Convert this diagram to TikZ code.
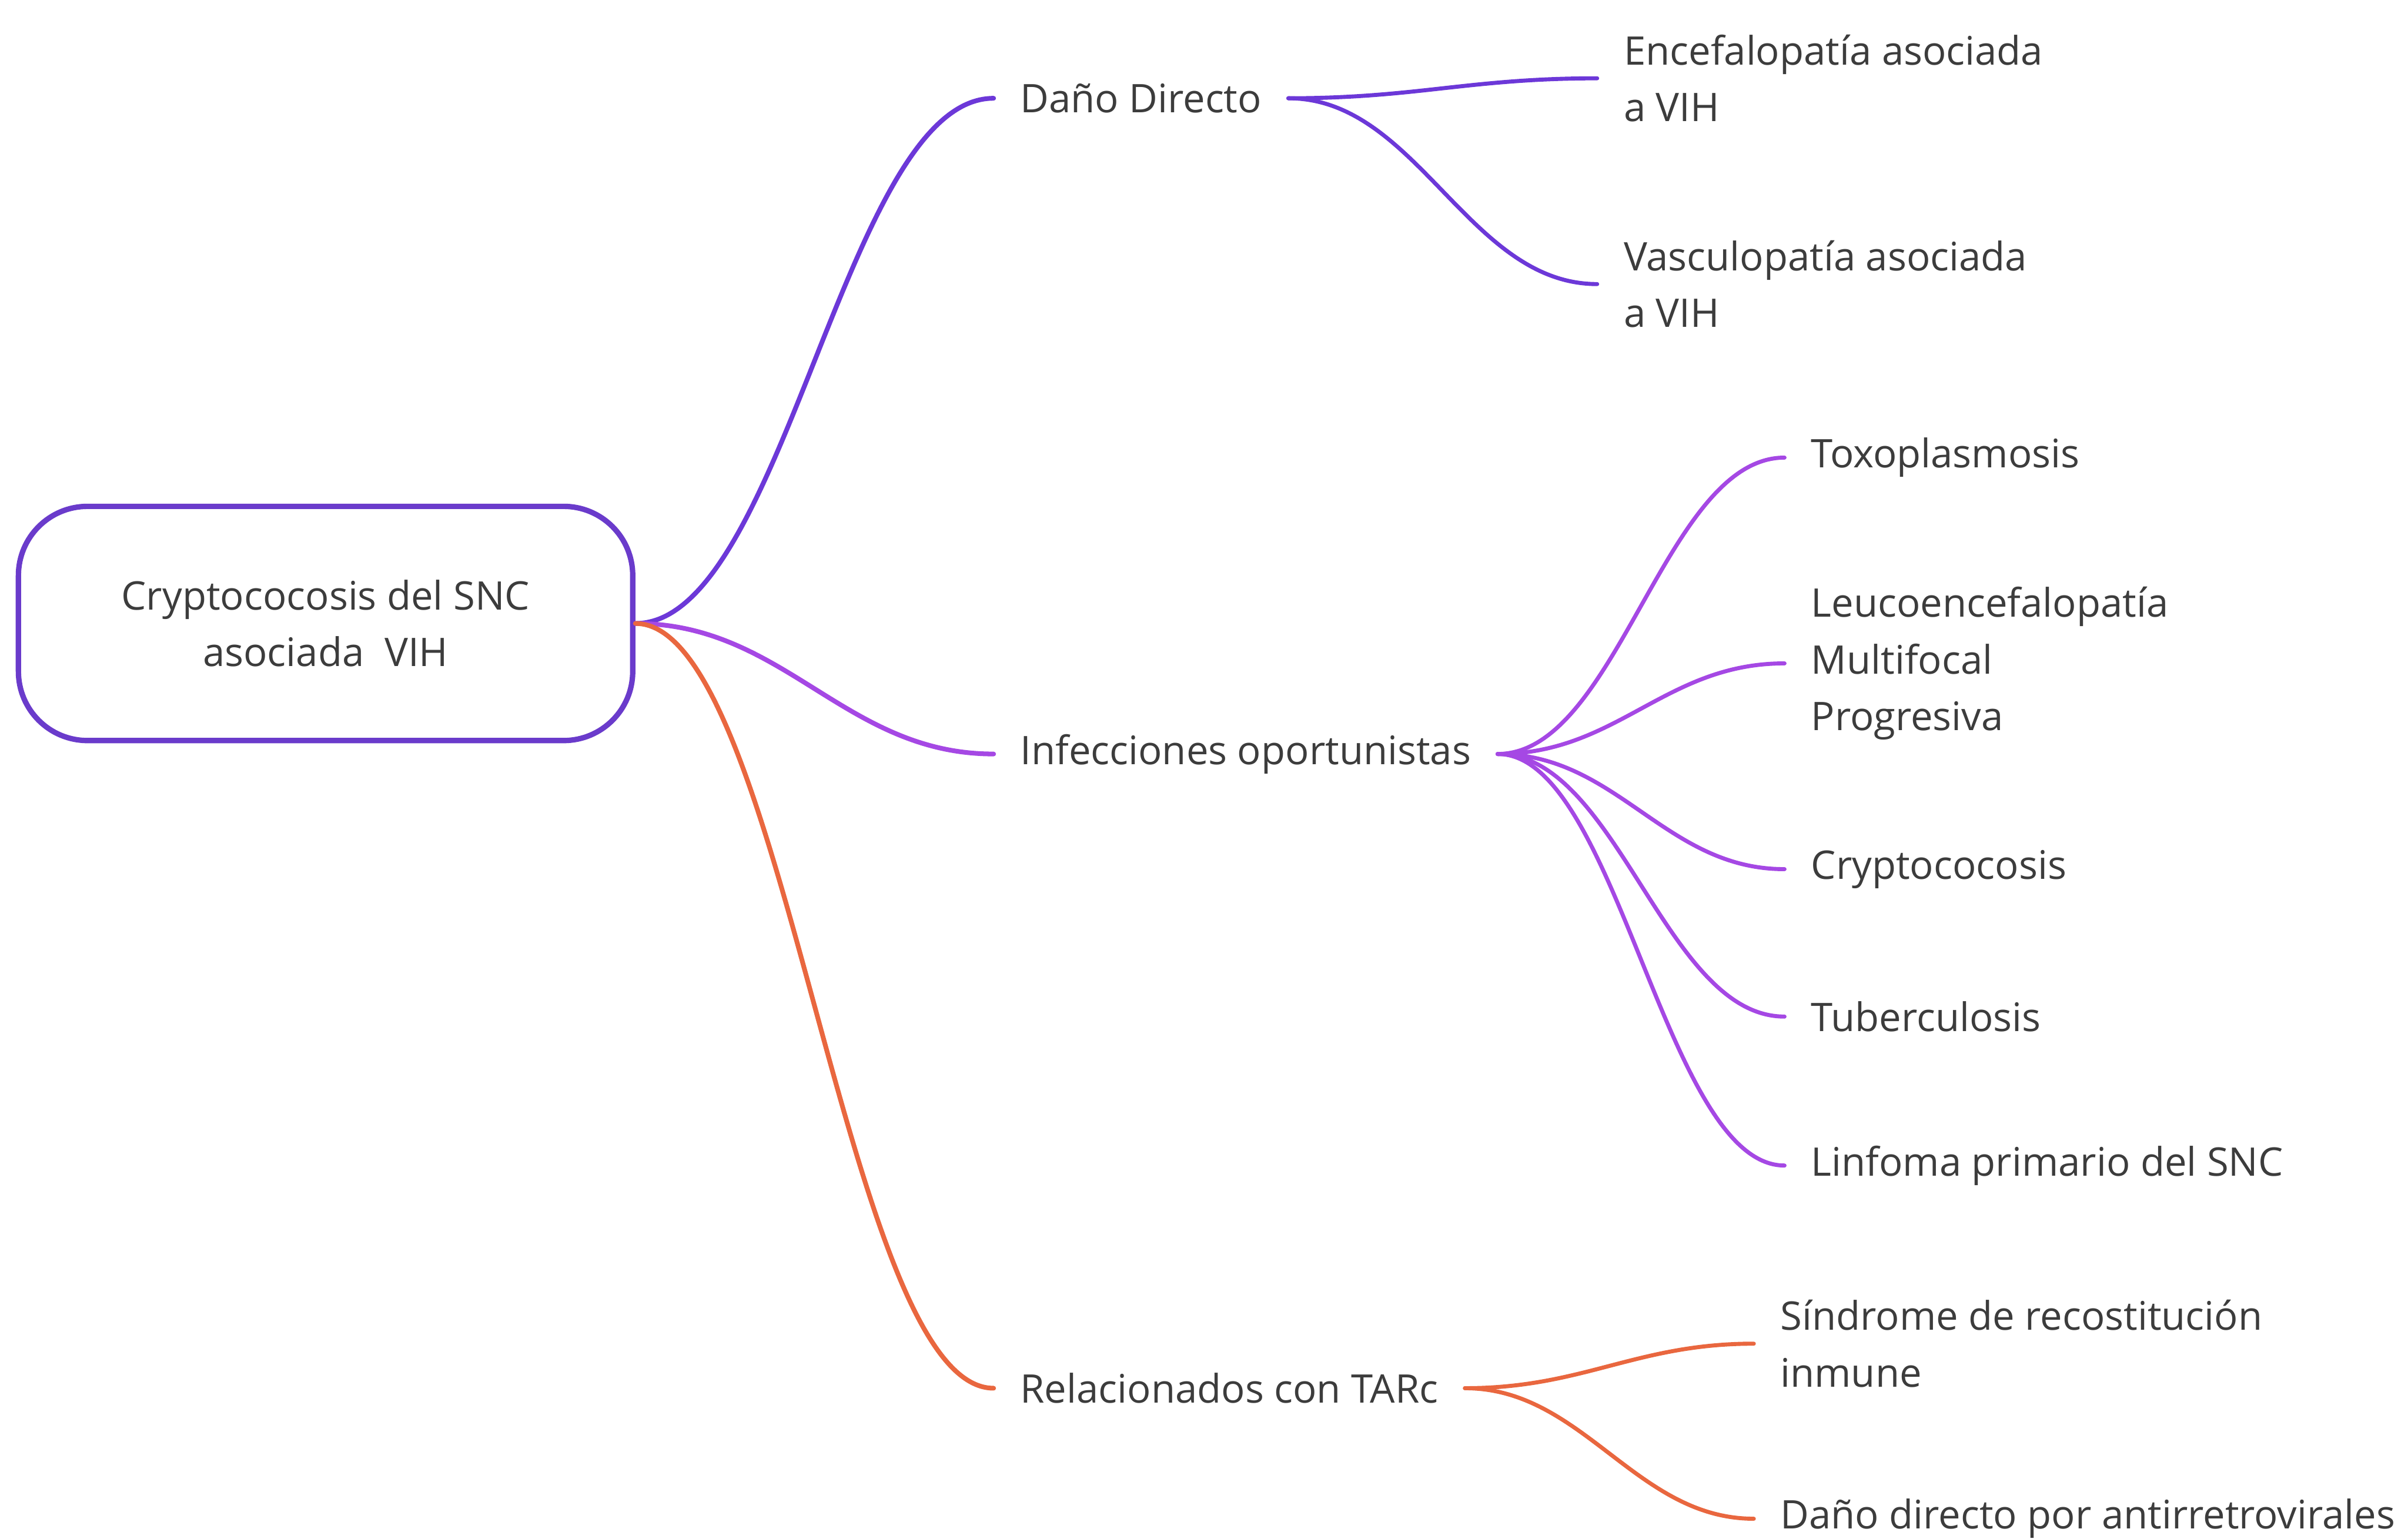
\documentclass[tikz,border=0pt]{standalone}
\usepackage{fontspec}
\setmainfont{Open Sans}
\usetikzlibrary{positioning}

\definecolor{rootcol}{HTML}{6A3BCB}
\definecolor{danocol}{HTML}{6C38D8}
\definecolor{infcol}{HTML}{A548E4}
\definecolor{tarcol}{HTML}{E9673F}
\definecolor{txtcol}{HTML}{3C3C3C}

\tikzset{
    mapfont/.style={font=\fontsize{14.6}{21}\selectfont, text=txtcol},
    rootbox/.style={mapfont, draw=rootcol, line width=2pt, rounded corners=0.9cm,
        minimum width=8cm, minimum height=3.05cm, align=center},
    topic/.style={mapfont, anchor=west, inner xsep=0.34cm, inner ysep=2pt, align=left},
    link/.style={line width=1.75pt, line cap=round},
    sublink/.style={line width=1.5pt, line cap=round}
}

\begin{document}
\begin{tikzpicture}[x=0.2mm, y={(0,-0.2mm)}]
    \useasboundingbox (0,0) rectangle (1568,1002);

    % central topic
    \node[rootbox] (root) at (212,406) {Cryptococosis del SNC\\asociada\ \ VIH};

    % main branches
    \node[topic] (dano) at (647,64) {Daño Directo};
    \node[topic] (infec) at (647,491) {Infecciones oportunistas};
    \node[topic] (tarc) at (647,904) {Relacionados con TARc};

    \draw[link, danocol] (root.east) .. controls +(97,0) and +(-97,0) .. (dano.west);
    \draw[link, infcol] (root.east) .. controls +(97,0) and +(-97,0) .. (infec.west);
    \draw[link, tarcol] (root.east) .. controls +(97,0) and +(-97,0) .. (tarc.west);

    % Dano Directo
    \node[topic] (encef) at (1040,51) {Encefalopatía asociada\\a VIH};
    \node[topic] (vascu) at (1040,185) {Vasculopatía asociada\\a VIH};
    \foreach \t in {encef, vascu}
        \draw[sublink, danocol] (dano.east) .. controls +(84,0) and +(-84,0) .. (\t.west);

    % Infecciones oportunistas
    \node[topic] (toxo) at (1162,298) {Toxoplasmosis};
    \node[topic] (leuco) at (1162,432) {Leucoencefalopatía\\Multifocal\\Progresiva};
    \node[topic] (crypto) at (1162,566) {Cryptococosis};
    \node[topic] (tuber) at (1162,662) {Tuberculosis};
    \node[topic] (linfo) at (1162,759) {Linfoma primario del SNC};
    \foreach \t in {toxo, leuco, crypto, tuber, linfo}
        \draw[sublink, infcol] (infec.east) .. controls +(78,0) and +(-78,0) .. (\t.west);

    % Relacionados con TARc
    \node[topic] (sindr) at (1142,875) {Síndrome de recostitución\\inmune};
    \node[topic] (antir) at (1142,989) {Daño directo por antirretrovirales};
    \foreach \t in {sindr, antir}
        \draw[sublink, tarcol] (tarc.east) .. controls +(77,0) and +(-77,0) .. (\t.west);
\end{tikzpicture}
\end{document}
